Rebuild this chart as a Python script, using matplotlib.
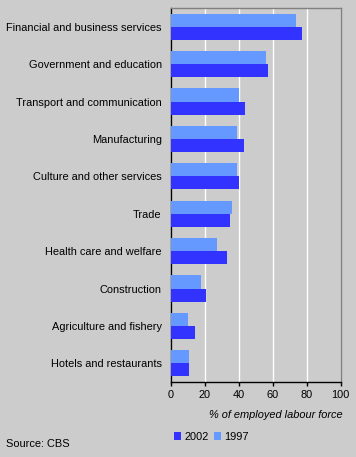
import numpy as np
import matplotlib
matplotlib.use("Agg")
import matplotlib.pyplot as plt

sectors = ["Financial and business services", "Government and education",
           "Transport and communication", "Manufacturing",
           "Culture and other services", "Trade", "Health care and welfare",
           "Construction", "Agriculture and fishery", "Hotels and restaurants"]
v2002 = [77, 57, 44, 43, 40, 35, 33, 21, 14, 11]
v1997 = [74, 56, 40, 39, 39, 36, 27, 18, 10, 11]
xticks = [0, 20, 40, 60, 80, 100]

plt.rcParams['font.family'] = ['Liberation Sans', 'DejaVu Sans']
plt.rcParams['font.size'] = 7.9

bg = '#cccccc'
fig = plt.figure(figsize=(3.56, 4.57), dpi=100, facecolor=bg)
ax = fig.add_axes([0.4795, 0.164, 0.4775, 0.8185], facecolor=bg)

y = np.arange(len(sectors))
h = 0.35
b1 = ax.barh(y - h / 2, v1997, height=h, color='#6699ff', label='1997', zorder=3)
b2 = ax.barh(y + h / 2, v2002, height=h, color='#3333ff', label='2002', zorder=3)

ax.set_ylim(len(sectors) - 0.5, -0.5)
ax.set_xlim(0, 100)
ax.set_xticks(xticks)
ax.set_yticks(y)
ax.set_yticklabels(sectors)
ax.tick_params(axis='y', length=0, pad=6.5)
ax.tick_params(axis='x', length=3, width=1, color='black', pad=3)
ax.grid(axis='x', color='white', linewidth=1, zorder=1)

ax.spines['left'].set_color('black')
ax.spines['bottom'].set_color('black')
ax.spines['top'].set_color('#808080')
ax.spines['right'].set_color('#808080')
for s in ax.spines.values():
    s.set_linewidth(1)

ax.set_xlabel('% of employed labour force', style='italic')
ax.xaxis.set_label_coords(1.01, -0.075)
ax.xaxis.label.set_horizontalalignment('right')

fig.legend([b2, b1], ['2002', '1997'], loc='lower left',
           bbox_to_anchor=(0.46, 0.012), ncol=2, frameon=False,
           handlelength=0.7, handleheight=0.7, handletextpad=0.25,
           columnspacing=0.5)
fig.text(0.017, 0.017, 'Source: CBS', ha='left', va='bottom')

fig.savefig('out.png', dpi=100, facecolor=bg)
